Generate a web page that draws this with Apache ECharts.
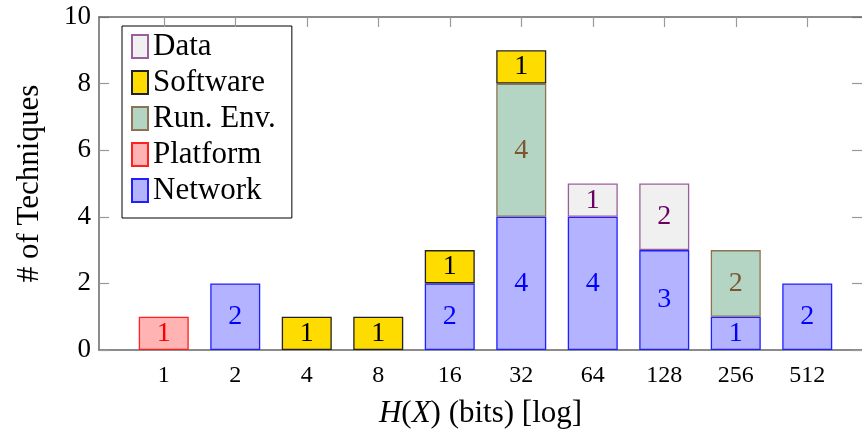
<!DOCTYPE html>
<html>
<head>
<meta charset="utf-8">
<script src="https://cdn.jsdelivr.net/npm/echarts@6/dist/echarts.min.js"></script>
<style>
    html, body { margin: 0; padding: 0; background: #fff; }
    #main { width: 862px; height: 441px; }
</style>
</head>
<body>
<div id="main"></div>
<script>
// categories along x (bits) and stack values per source
let categories = ['1', '2', '4', '8', '16', '32', '64', '128', '256', '512'];
let network  = [null, 2, null, null, 2, 4, 4, 3, 1, 2];
let platform = [1, null, null, null, null, null, null, null, null, null];
let runEnv   = [null, null, null, null, null, 4, null, null, 2, null];
let software = [null, null, 1, 1, 1, 1, null, null, null, null];
let dataSrc  = [null, null, null, null, null, null, 1, 2, null, null];

let font = 'Liberation Serif';
let tickStyle = { color: '#999', width: 1.2 };
let axisStyle = { color: '#666', width: 1.5 };

function bar(name, arr, fill, edge, txt) {
    return {
        name: name,
        type: 'bar',
        stack: 'all',
        xAxisIndex: 3,
        yAxisIndex: 2,
        barWidth: 50,
        data: arr.map(v => v == null ? '-' : v),
        itemStyle: { color: fill, borderColor: edge, borderWidth: 1.3 },
        label: {
            show: true,
            position: 'inside',
            color: txt,
            fontFamily: font,
            fontSize: 28
        }
    };
}

var myChart = echarts.init(document.getElementById('main'));
option = {
    animation: false,
    grid: [
        // frame: axis lines, y labels, names
        { left: 99, top: 17, right: 0, bottom: 91 },
        // bars: categories sit inside the frame
        { left: 128, top: 17, right: 19, bottom: 91 }
    ],
    legend: {
        orient: 'vertical',
        left: 122,
        top: 26,
        z: 2,
        data: ['Data', 'Software', 'Run. Env.', 'Platform', 'Network'],
        icon: 'rect',
        itemWidth: 16,
        itemHeight: 23,
        itemGap: 5,
        padding: [5, 16, 12, 9],
        borderColor: '#000',
        borderWidth: 1,
        backgroundColor: '#fff',
        textStyle: { fontFamily: font, fontSize: 31, color: '#000' }
    },
    xAxis: [
        {
            gridIndex: 0,
            type: 'value',
            min: 0,
            max: 1,
            name: '{i|H}({i|X}) (bits) [log]',
            nameLocation: 'middle',
            nameGap: 48,
            nameTextStyle: {
                fontFamily: font, fontSize: 31, color: '#000',
                rich: { i: { fontFamily: font, fontSize: 31, fontStyle: 'italic', color: '#000' } }
            },
            axisLine: { show: true, onZero: false, lineStyle: axisStyle },
            axisTick: { show: false },
            axisLabel: { show: false },
            splitLine: { show: false }
        },
        {
            gridIndex: 0,
            type: 'value',
            position: 'top',
            z: 10,
            min: 0,
            max: 1,
            axisLine: { show: true, onZero: false, lineStyle: axisStyle },
            axisTick: { show: false },
            axisLabel: { show: false },
            splitLine: { show: false }
        },
        {
            gridIndex: 1,
            type: 'category',
            position: 'top',
            z: 10,
            data: categories,
            axisLine: { show: false, onZero: false },
            axisTick: { show: true, inside: true, length: 10, alignWithLabel: true, lineStyle: tickStyle },
            axisLabel: { show: false },
            splitLine: { show: false }
        },
        {
            gridIndex: 1,
            type: 'category',
            position: 'bottom',
            data: categories,
            axisLine: { show: false, onZero: false },
            axisTick: { show: true, inside: true, length: 10, alignWithLabel: true, lineStyle: tickStyle },
            axisLabel: { fontFamily: font, fontSize: 24, color: '#000', margin: 14 },
            splitLine: { show: false }
        }
    ],
    yAxis: [
        {
            gridIndex: 0,
            type: 'value',
            min: 0,
            max: 10,
            interval: 2,
            name: '# of Techniques',
            nameLocation: 'middle',
            nameGap: 54,
            nameTextStyle: { fontFamily: font, fontSize: 31, color: '#000' },
            axisLine: { show: true, onZero: false, lineStyle: axisStyle },
            axisTick: { show: true, inside: true, length: 10, lineStyle: tickStyle },
            axisLabel: { fontFamily: font, fontSize: 27, color: '#000', margin: 8 },
            splitLine: { show: false }
        },
        {
            gridIndex: 0,
            type: 'value',
            position: 'right',
            min: 0,
            max: 10,
            interval: 2,
            axisLine: { show: false, onZero: false },
            axisTick: { show: true, inside: true, length: 10, lineStyle: tickStyle },
            axisLabel: { show: false },
            splitLine: { show: false }
        },
        {
            gridIndex: 1,
            type: 'value',
            min: 0,
            max: 10,
            show: false
        }
    ],
    series: [
        bar('Network', network, '#b3b3ff', '#2020ff', '#0000ff'),
        bar('Platform', platform, '#ffb3b3', '#ff2020', '#ff0000'),
        bar('Run. Env.', runEnv, '#b4d5c3', '#8c7356', '#7b5630'),
        bar('Software', software, '#ffdc00', '#222222', '#000000'),
        bar('Data', dataSrc, '#f0f0f0', '#9a5f9a', '#6a0060')
    ]
};
myChart.setOption(option);
</script>
</body>
</html>
